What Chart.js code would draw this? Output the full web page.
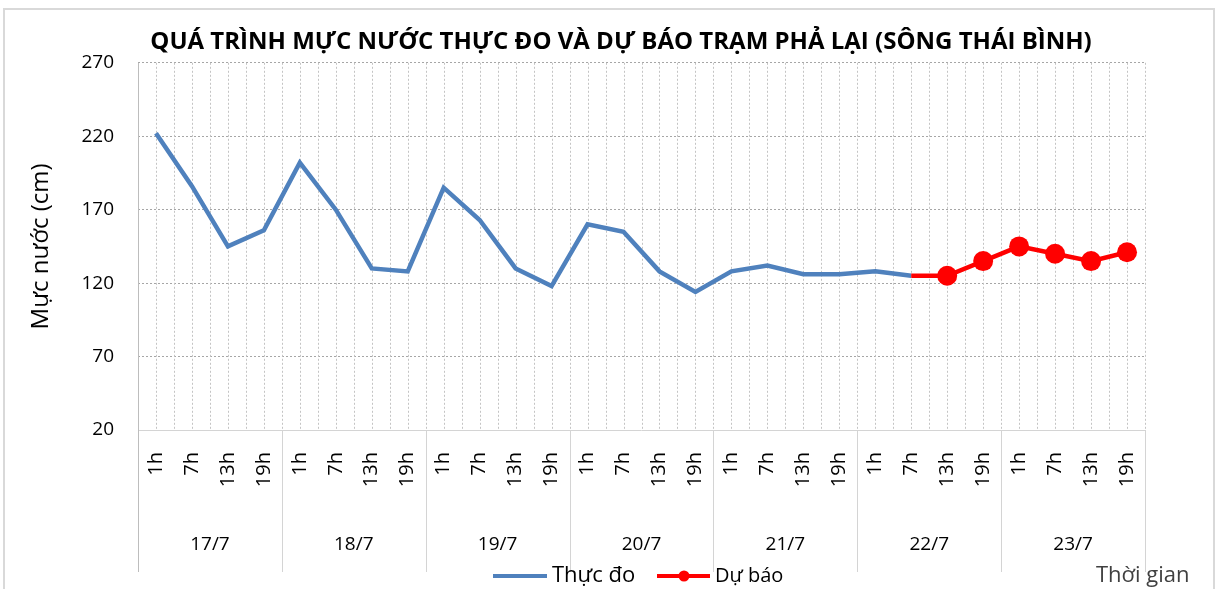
<!DOCTYPE html>
<html>
<head>
<meta charset="utf-8">
<script src="https://cdn.jsdelivr.net/npm/chart.js@4.4.0/dist/chart.umd.min.js"></script>
<style>
    body { margin: 0; background: #fff; }
    #wrap { width: 1218px; height: 589px; }
</style>
</head>
<body>
<div id="wrap"><canvas id="levelChart" width="1218" height="589"></canvas></div>
<script>
const days = ["17/7", "18/7", "19/7", "20/7", "21/7", "22/7", "23/7"];
const hours = ["1h", "7h", "13h", "19h"];

const measured = [222, 186, 145, 156, 202, 170, 130, 128, 185, 163, 130, 118,
    160, 155, 128, 114, 128, 132, 126, 126, 128, 125,
    null, null, null, null, null, null];
const forecast = [null, null, null, null, null, null, null, null, null, null, null, null,
    null, null, null, null, null, null, null, null, null, 125,
    125, 135, 145, 140, 135, 141];

const yTicks = [20, 70, 120, 170, 220, 270];

const labels = [];
days.forEach(d => hours.forEach(h => labels.push(h)));

const FONT = "'Open Sans', 'DejaVu Sans', sans-serif";

// dotted verticals, day separators, axis lines, legend, frame
const extras = {
    id: "extras",
    beforeDatasetsDraw(chart) {
        const { ctx, chartArea: a } = chart;
        const x = chart.scales.x;
        const half = (x.getPixelForValue(1) - x.getPixelForValue(0)) / 2;
        ctx.save();
        ctx.strokeStyle = "#c4c4c4";
        ctx.lineWidth = 1;
        ctx.setLineDash([2, 2]);
        for (let i = 0; i < labels.length; i++) {
            const c = Math.round(x.getPixelForValue(i)) + 0.5;
            const b = Math.round(x.getPixelForValue(i) + half) + 0.5;
            [c, b].forEach(px => {
                ctx.beginPath();
                ctx.moveTo(px, a.top);
                ctx.lineTo(px, a.bottom);
                ctx.stroke();
            });
        }
        ctx.restore();
    },
    afterDraw(chart) {
        const { ctx, chartArea: a } = chart;
        const band = (a.right - a.left) / days.length;
        ctx.save();
        ctx.strokeStyle = "#d4d4d4";
        ctx.lineWidth = 1;
        // x axis line
        ctx.beginPath();
        ctx.moveTo(a.left, a.bottom + 0.5);
        ctx.lineTo(a.right, a.bottom + 0.5);
        ctx.stroke();
        // y axis line
        ctx.strokeStyle = "#bdbdbd";
        ctx.beginPath();
        ctx.moveTo(a.left + 0.5, a.top);
        ctx.lineTo(a.left + 0.5, 572);
        ctx.stroke();
        // day separators
        ctx.strokeStyle = "#d4d4d4";
        for (let k = 1; k <= days.length; k++) {
            const px = Math.round(a.left + k * band) + 0.5;
            ctx.beginPath();
            ctx.moveTo(px, a.bottom);
            ctx.lineTo(px, 572);
            ctx.stroke();
        }

        // legend
        const ly = 576;
        ctx.lineWidth = 4;
        ctx.strokeStyle = "#4F81BD";
        ctx.beginPath();
        ctx.moveTo(493, ly);
        ctx.lineTo(547, ly);
        ctx.stroke();
        ctx.strokeStyle = "#FF0000";
        ctx.beginPath();
        ctx.moveTo(657, ly);
        ctx.lineTo(710, ly);
        ctx.stroke();
        ctx.fillStyle = "#FF0000";
        ctx.beginPath();
        ctx.arc(684, ly, 5.5, 0, Math.PI * 2);
        ctx.fill();

        ctx.fillStyle = "#000";
        ctx.textBaseline = "middle";
        ctx.textAlign = "left";
        ctx.font = "22px " + FONT;
        ctx.fillText("Thực đo", 552, ly);
        ctx.font = "20px " + FONT;
        ctx.fillText("Dự báo", 715, ly);
        ctx.fillStyle = "#404040";
        ctx.font = "22px " + FONT;
        ctx.fillText("Thời gian", 1096, ly);

        // outer frame
        ctx.strokeStyle = "#d9d9d9";
        ctx.lineWidth = 2;
        ctx.strokeRect(4, 9, 1210, 600);
        ctx.restore();
    }
};

const ctx = document.getElementById("levelChart");

new Chart(ctx, {
    type: "line",
    data: {
        labels: labels,
        datasets: [
            {
                label: "Thực đo",
                data: measured,
                borderColor: "#4F81BD",
                backgroundColor: "#4F81BD",
                borderWidth: 4.5,
                pointRadius: 0,
                tension: 0,
                order: 2
            },
            {
                label: "Dự báo",
                data: forecast,
                borderColor: "#FF0000",
                backgroundColor: "#FF0000",
                borderWidth: 4.5,
                pointRadius: forecast.map((v, i) => (v === null || i === 21) ? 0 : 10),
                pointBorderWidth: 0,
                tension: 0,
                order: 1
            }
        ]
    },
    options: {
        responsive: false,
        animation: false,
        layout: {
            padding: { left: 24, right: 0, top: 0, bottom: 19 }
        },
        plugins: {
            legend: { display: false },
            tooltip: { enabled: false },
            title: {
                display: true,
                text: "QUÁ TRÌNH MỰC NƯỚC THỰC ĐO VÀ DỰ BÁO TRẠM PHẢ LẠI (SÔNG THÁI BÌNH)",
                color: "#000",
                font: { family: FONT, size: 24, weight: "bold" },
                padding: { top: 28, bottom: 6 }
            }
        },
        scales: {
            x: {
                type: "category",
                offset: true,
                grid: { display: false, drawTicks: false },
                border: { display: false },
                ticks: {
                    autoSkip: false,
                    minRotation: 90,
                    maxRotation: 90,
                    padding: 22,
                    color: "#000",
                    font: { family: FONT, size: 20 }
                },
                afterFit(scale) { scale.height = 90; }
            },
            x2: {
                type: "category",
                position: "bottom",
                labels: days,
                offset: true,
                grid: { display: false, drawTicks: false },
                border: { display: false },
                ticks: {
                    padding: 13,
                    color: "#000",
                    font: { family: FONT, size: 19 }
                },
                afterFit(scale) { scale.height = 50; }
            },
            y: {
                min: 20,
                max: 270,
                afterBuildTicks(scale) {
                    scale.ticks = yTicks.map(v => ({ value: v }));
                },
                grid: {
                    color: "#a6a6a6",
                    drawTicks: false
                },
                border: { display: false, dash: [2, 2] },
                ticks: {
                    padding: 24,
                    color: "#000",
                    font: { family: FONT, size: 19 }
                },
                title: {
                    display: true,
                    text: "Mực nước (cm)",
                    color: "#000",
                    font: { family: FONT, size: 24 },
                    padding: { top: 3, bottom: 0 }
                },
                afterFit(scale) { scale.width = 114; }
            },
            yRight: {
                position: "right",
                grid: { display: false, drawTicks: false },
                border: { display: false },
                ticks: { display: false },
                afterFit(scale) { scale.width = 73; }
            }
        }
    },
    plugins: [extras]
});
</script>
</body>
</html>
